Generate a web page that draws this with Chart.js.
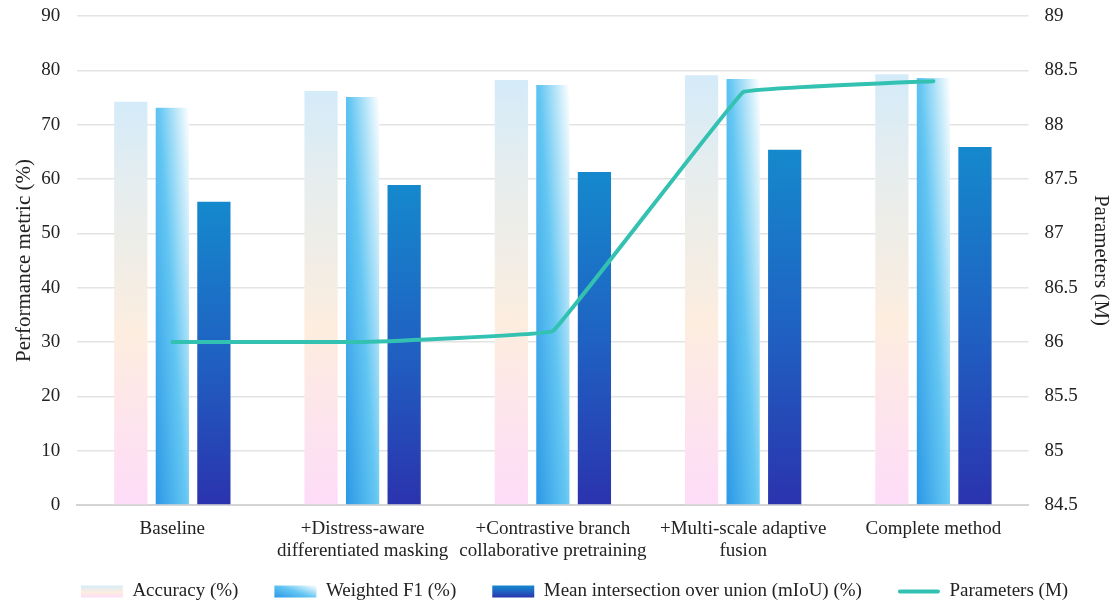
<!DOCTYPE html>
<html>
<head>
<meta charset="utf-8">
<script src="https://cdn.jsdelivr.net/npm/chart.js@4"></script>
<style>
  html, body { margin: 0; padding: 0; background: #fff; }
  #wrap { width: 1119px; height: 611px; }
</style>
</head>
<body>
<div id="wrap"><canvas id="myChart"></canvas></div>
<script>
// data
const categories = [
  'Baseline',
  ['+Distress-aware', 'differentiated masking'],
  ['+Contrastive branch', 'collaborative pretraining'],
  ['+Multi-scale adaptive', 'fusion'],
  'Complete method'
];
const accuracy = [74.2, 76.2, 78.2, 79.1, 79.3];
const weightedF1 = [73.1, 75.1, 77.3, 78.4, 78.6];
const miou = [55.8, 58.9, 61.3, 65.4, 65.9];
const params = [86.0, 86.0, 86.1, 88.3, 88.4];
const leftTicks = [0, 90, 10];
const rightTicks = [84.5, 89, 0.5];

const FONT = "'Liberation Serif', 'Times New Roman', serif";
const CAT_PCT = 0.655, BAR_PCT = 0.8;
const LINE_COLOR = '#33c2b2';
const SWATCH_W = 42, SWATCH_GAP = 26;

// gradient makers, box = {left, right, top, bottom}
function accGrad(ctx, b) {
  const g = ctx.createLinearGradient(0, b.bottom, 0, b.top);
  g.addColorStop(0, '#fddcf8');
  g.addColorStop(0.25, '#fde6ea');
  g.addColorStop(0.42, '#fdeddf');
  g.addColorStop(0.6, '#f0ede6');
  g.addColorStop(0.78, '#e6edee');
  g.addColorStop(1, '#d4ebf9');
  return g;
}
function f1Grad(ctx, b) {
  const w = b.right - b.left, h = Math.max(b.bottom - b.top, 1);
  const a = 0.55, c = 0.45;
  const k = a * a / (w * w) + c * c / (h * h);
  const g = ctx.createLinearGradient(b.left, b.bottom, b.left + (a / w) / k, b.bottom - (c / h) / k);
  g.addColorStop(0, '#2c98e6');
  g.addColorStop(0.5, '#63c6f2');
  g.addColorStop(1, '#ffffff');
  return g;
}
function miouGrad(ctx, b) {
  const g = ctx.createLinearGradient(0, b.bottom, 0, b.top);
  g.addColorStop(0, '#2b33ae');
  g.addColorStop(0.5, '#1f62c2');
  g.addColorStop(1, '#1589cd');
  return g;
}
const makers = [accGrad, f1Grad, miouGrad];

// box of one bar, computed from the scales
function barBox(chart, dsIndex, idx) {
  const xs = chart.scales.x, ys = chart.scales.y;
  if (!xs || !ys || xs.width === 0) return null;
  const cat = xs.width / categories.length;
  const slot = cat * CAT_PCT / 3;
  const cx = xs.getPixelForValue(idx) + (dsIndex - 1) * slot;
  const bw = slot * BAR_PCT;
  const v = chart.data.datasets[dsIndex].data[idx];
  return { left: cx - bw / 2, right: cx + bw / 2, top: ys.getPixelForValue(v), bottom: ys.getPixelForValue(0) };
}

function barColor(dsIndex) {
  return function (c) {
    if (c.type !== 'data') return '#cccccc';
    const b = barBox(c.chart, dsIndex, c.dataIndex);
    if (!b) return '#cccccc';
    return makers[dsIndex](c.chart.ctx, b);
  };
}

// draw the legend swatches ourselves so they can carry the gradients
// (the legend box is wider than the swatch, the blank part makes the gap between items)
const legendSwatches = {
  id: 'legendSwatches',
  afterDraw(chart) {
    const lg = chart.legend;
    if (!lg || !lg.legendHitBoxes) return;
    const ctx = chart.ctx;
    const bh = lg.options.labels.boxHeight;
    lg.legendHitBoxes.forEach((hb, i) => {
      const top = hb.top + (hb.height - bh) / 2;
      const left = hb.left + SWATCH_GAP;
      const b = { left: left, right: left + SWATCH_W, top: top, bottom: top + bh };
      ctx.save();
      if (i < 3) {
        ctx.fillStyle = makers[i](ctx, b);
        ctx.fillRect(b.left, b.top, SWATCH_W, bh);
      } else {
        ctx.strokeStyle = LINE_COLOR;
        ctx.lineWidth = 4;
        ctx.lineCap = 'round';
        ctx.beginPath();
        ctx.moveTo(b.left + 2, top + bh / 2);
        ctx.lineTo(b.right - 2, top + bh / 2);
        ctx.stroke();
      }
      ctx.restore();
    });
  }
};

// the tick padding would otherwise also be added above the plot
function trimTop(scale) { scale.paddingTop = 16; }

var ctx = document.getElementById('myChart').getContext('2d');
var myChart = new Chart(ctx, {
  type: 'bar',
  data: {
    labels: categories,
    datasets: [
      { label: 'Accuracy (%)', data: accuracy, backgroundColor: barColor(0), yAxisID: 'y', order: 1 },
      { label: 'Weighted F1 (%)', data: weightedF1, backgroundColor: barColor(1), yAxisID: 'y', order: 1 },
      { label: 'Mean intersection over union (mIoU) (%)', data: miou, backgroundColor: barColor(2), yAxisID: 'y', order: 1 },
      {
        type: 'line', label: 'Parameters (M)', data: params, yAxisID: 'y1', order: -1,
        borderColor: LINE_COLOR, backgroundColor: LINE_COLOR, borderWidth: 4,
        pointRadius: 0, tension: 0.04, borderCapStyle: 'round', borderJoinStyle: 'round'
      }
    ]
  },
  options: {
    responsive: true,
    maintainAspectRatio: false,
    animation: false,
    categoryPercentage: CAT_PCT,
    barPercentage: BAR_PCT,
    layout: { padding: { top: 0, left: 8, right: 4, bottom: 0 } },
    plugins: {
      tooltip: { enabled: false },
      legend: {
        position: 'bottom',
        labels: {
          font: { family: FONT, size: 19 },
          color: '#222',
          boxWidth: SWATCH_W + SWATCH_GAP,
          boxHeight: 12,
          padding: 10,
          sort: (a, b) => a.datasetIndex - b.datasetIndex,
          generateLabels: (chart) => chart.data.datasets.map((d, i) => ({
            text: d.label, datasetIndex: i, fillStyle: 'rgba(0,0,0,0)',
            strokeStyle: 'rgba(0,0,0,0)', lineWidth: 0, hidden: false, fontColor: '#222'
          }))
        }
      }
    },
    scales: {
      x: {
        grid: { display: false, drawTicks: false },
        border: { color: '#d4d4d4', width: 2 },
        ticks: { font: { family: FONT, size: 19, lineHeight: 1.15 }, color: '#222', maxRotation: 0, autoSkip: false, padding: 13 },
        afterFit: (scale) => { scale.height = 67; }
      },
      y: {
        position: 'left',
        min: leftTicks[0], max: leftTicks[1],
        ticks: { stepSize: leftTicks[2], font: { family: FONT, size: 19 }, color: '#222', padding: 17 },
        grid: { color: '#e3e3e3', lineWidth: 1.5, drawTicks: false },
        border: { display: false },
        title: { display: true, text: 'Performance metric (%)', font: { family: FONT, size: 21 }, color: '#222', padding: { top: 4, bottom: -13 } },
        afterFit: trimTop
      },
      y1: {
        position: 'right',
        min: rightTicks[0], max: rightTicks[1],
        ticks: {
          stepSize: rightTicks[2], font: { family: FONT, size: 19 }, color: '#222', padding: 16,
          callback: v => String(+v.toFixed(1))
        },
        grid: { drawOnChartArea: false, drawTicks: false },
        border: { display: false },
        title: { display: true, text: 'Parameters (M)', font: { family: FONT, size: 21 }, color: '#222', padding: { top: 2, bottom: -6 } },
        afterFit: trimTop
      }
    }
  },
  plugins: [legendSwatches]
});
</script>
</body>
</html>
